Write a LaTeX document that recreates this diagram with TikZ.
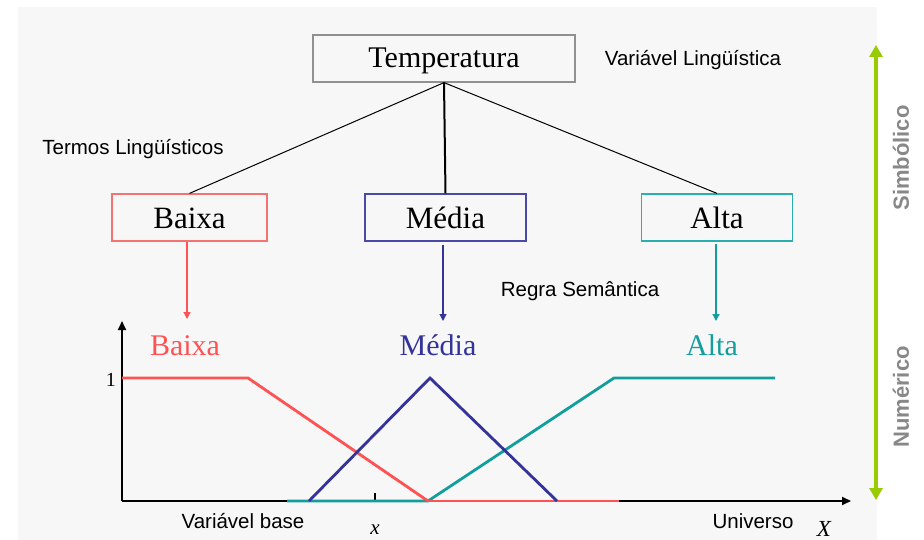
\documentclass[tikz,border=0pt]{standalone}
\usepackage{fontspec}
\setmainfont{Liberation Serif}
\setsansfont{Liberation Sans}
\usetikzlibrary{arrows.meta}
\definecolor{bg}{HTML}{F7F7F7}
\definecolor{redbox}{HTML}{F47272}
\definecolor{bluebox}{HTML}{4A4AA6}
\definecolor{tealbox}{HTML}{2AAEAE}
\definecolor{redc}{HTML}{FF5252}
\definecolor{bluec}{HTML}{333399}
\definecolor{tealc}{HTML}{139E9E}
\definecolor{greenc}{HTML}{99CC00}
\definecolor{grayt}{HTML}{888888}
\definecolor{boxgray}{HTML}{909090}
\tikzset{
  termbox/.style={draw, line width=1.2pt, minimum width=#1, minimum height=47, inner sep=0,
     font=\fontsize{31}{31}\selectfont, text height=25, text depth=2},
  sanslbl/.style={font=\sffamily\fontsize{20.5}{20.5}\selectfont, anchor=base, inner sep=0},
  seriflbl/.style={font=\fontsize{30}{30}\selectfont, anchor=base, inner sep=0},
  mf/.style={line width=2.8pt},
  semarrow/.style={line width=1.2pt, -{Triangle[width=7,length=7]}},
  axis/.style={line width=1.8pt, -{Triangle[width=8,length=9]}},
  sidelbl/.style={font=\sffamily\bfseries\fontsize{22}{22}\selectfont, text=grayt, rotate=90, inner sep=0}
}
\begin{document}
\begin{tikzpicture}[x=1pt,y=-1pt]
\useasboundingbox (0,0) rectangle (924,540);
\fill[bg] (18,7) rectangle (877,540);

% top variable
\node[draw=boxgray, line width=1.2pt, minimum width=262, minimum height=47, inner sep=0,
      font=\fontsize{30}{30}\selectfont, text height=21, text depth=2] (temp) at (444,58.5) {Temperatura};
\node[sanslbl] (varling) at (693,66) {Variável Lingüística};
\node[sanslbl] (termos) at (133,155) {Termos Lingüísticos};

% term boxes
\node[termbox=155, draw=redbox] (bx) at (189.5,217.5) {Baixa};
\node[termbox=161, draw=bluebox] (md) at (445.5,217.5) {Média};
\node[termbox=151, draw=tealbox] (al) at (717,217.5) {Alta};

\draw[line width=1pt] (temp.south) -- (bx.north);
\draw[line width=2pt] (temp.south) -- (md.north);
\draw[line width=1pt] (temp.south) -- (al.north);

% semantic rule arrows
\coordinate (bxend) at (187,319);
\coordinate (mdend) at (443,321);
\coordinate (alend) at (716,321);
\draw[semarrow, redc] (bx.south -| bxend) -- (bxend);
\draw[semarrow, bluec] ([yshift=-3]md.south -| mdend) -- (mdend);
\draw[semarrow, tealc] ([yshift=-2]al.south -| alend) -- (alend);
\node[sanslbl] (regra) at (580,296) {Regra Semântica};

% axes
\coordinate (o) at (122,501);
\coordinate (ytop) at (122,321);
\coordinate (xend) at (851,501);
\draw[axis] (o) -- (ytop);
\draw[axis] (o) -- (xend);
\node[seriflbl, font=\fontsize{20}{20}\selectfont, anchor=base east] (one) at (116,386) {1};
\draw[line width=1.2pt] (375,493) -- (375,501);

% membership functions
\draw[mf, tealc] (287,501) -- (428,501) -- (614,378) -- (775,378);
\draw[mf, redc] (122,378) -- (248,378) -- (428,501);
\draw[line width=2pt, redc] (428,501) -- (619,501);
\draw[mf, bluec, line join=miter] (309,501) -- (430,378) -- (557,501);

% labels
\node[seriflbl, text=redc] (lbx) at (185,355) {Baixa};
\node[seriflbl, text=bluec] (lmd) at (438,355) {Média};
\node[seriflbl, text=tealc] (lal) at (712,355) {Alta};

\node[sanslbl] (vbase) at (243,528) {Variável base};
\node[sanslbl] (univ) at (753,528) {Universo};
\node[font=\itshape\fontsize{21}{21}\selectfont, anchor=base, inner sep=0] (xl) at (375,534) {x};
\node[font=\itshape\fontsize{23}{23}\selectfont, anchor=base, inner sep=0] (Xl) at (824,536) {X};

% side arrow
\coordinate (gtop) at (876,45);
\coordinate (gbot) at (876,500);
\draw[greenc, line width=4pt, {Triangle[width=13,length=12]}-{Triangle[width=13,length=12]}] (gtop) -- (gbot);
\node[sidelbl] (simb) at (901,158) {Simbólico};
\node[sidelbl] (num) at (901,397) {Numérico};
\end{tikzpicture}
\end{document}
